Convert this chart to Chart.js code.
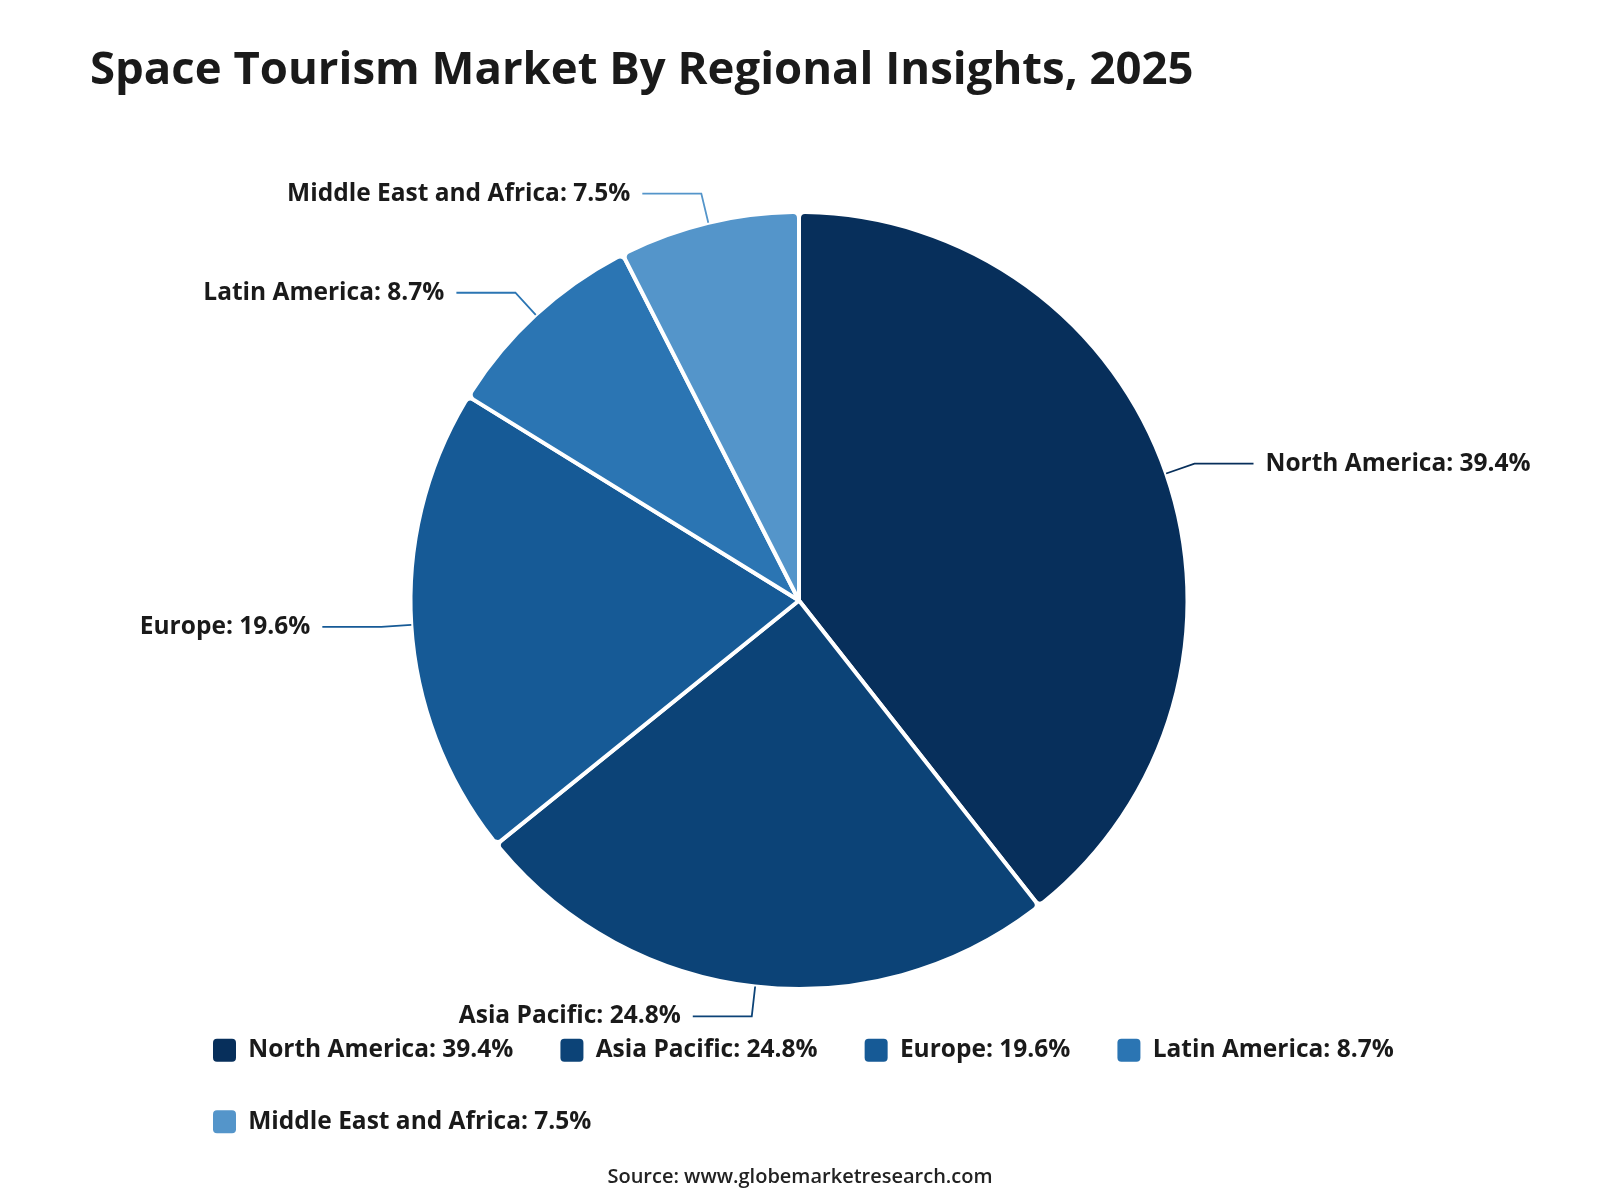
<!DOCTYPE html>
<html>
<head>
<meta charset="utf-8">
<script src="https://cdn.jsdelivr.net/npm/chart.js@4/dist/chart.umd.min.js"></script>
<style>
  html, body { margin: 0; padding: 0; background: #fff; }
  #wrap { width: 1600px; height: 1200px; position: relative; }
</style>
</head>
<body>
<div id="wrap"><canvas id="regionChart"></canvas></div>
<script>
// ---- data ----
const regions = ['North America', 'Asia Pacific', 'Europe', 'Latin America', 'Middle East and Africa'];
const shares = [39.4, 24.8, 19.6, 8.7, 7.5];
const sliceColors = ['#072f5b', '#0c4377', '#165a96', '#2b75b3', '#5495ca'];
const chartTitle = 'Space Tourism Market By Regional Insights, 2025';
const sourceText = 'Source: www.globemarketresearch.com';

const FONT = '"Open Sans", "Noto Sans", sans-serif';
const TEXT_COLOR = '#1a1a1a';

function labelText(i) {
    return regions[i] + ': ' + shares[i] + '%';
}

// title + source drawn on the canvas
const headerFooter = {
    id: 'headerFooter',
    afterDraw(chart) {
        const ctx = chart.ctx;
        ctx.save();
        ctx.fillStyle = TEXT_COLOR;
        ctx.font = 'bold 45.5px ' + FONT;
        ctx.textAlign = 'left';
        ctx.textBaseline = 'middle';
        ctx.fillText(chartTitle, 90, 71);

        ctx.fillStyle = '#222';
        ctx.font = '600 20px ' + FONT;
        ctx.textAlign = 'center';
        ctx.fillText(sourceText, 800, 1177);
        ctx.restore();
    }
};

// nudge the legend a little to the right, the pie stays centred
const legendNudge = {
    id: 'legendNudge',
    afterLayout(chart) {
        if (chart.legend) {
            chart.legend.left += 6;
            chart.legend.right += 6;
        }
    }
};

// callout labels with elbow leader lines
const calloutLabels = {
    id: 'calloutLabels',
    afterDatasetsDraw(chart) {
        const ctx = chart.ctx;
        const meta = chart.getDatasetMeta(0);
        ctx.save();
        ctx.font = 'bold 24.5px ' + FONT;
        ctx.textBaseline = 'middle';
        meta.data.forEach((arc, i) => {
            const p = arc.getProps(['x', 'y', 'startAngle', 'endAngle', 'outerRadius'], true);
            const mid = (p.startAngle + p.endAngle) / 2;
            const cos = Math.cos(mid), sin = Math.sin(mid);
            const right = cos >= 0;
            const x0 = p.x + cos * p.outerRadius, y0 = p.y + sin * p.outerRadius;
            const x1 = p.x + cos * (p.outerRadius + 30), y1 = p.y + sin * (p.outerRadius + 30);
            const x2 = x1 + (right ? 59 : -59);

            ctx.strokeStyle = sliceColors[i];
            ctx.lineWidth = 1.8;
            ctx.beginPath();
            ctx.moveTo(x0, y0);
            ctx.lineTo(x1, y1);
            ctx.lineTo(x2, y1);
            ctx.stroke();

            ctx.fillStyle = TEXT_COLOR;
            ctx.textAlign = right ? 'left' : 'right';
            ctx.fillText(labelText(i), x2 + (right ? 12 : -12), y1);
        });
        ctx.restore();
    }
};

const ctx = document.getElementById('regionChart').getContext('2d');
new Chart(ctx, {
    type: 'pie',
    data: {
        labels: regions,
        datasets: [{
            data: shares,
            backgroundColor: sliceColors,
            borderColor: '#ffffff',
            borderWidth: 4,
            borderRadius: 6
        }]
    },
    options: {
        responsive: true,
        maintainAspectRatio: false,
        animation: false,
        layout: { padding: { top: 210, bottom: 56, left: 160, right: 162 } },
        plugins: {
            title: { display: false },
            tooltip: { enabled: false },
            legend: {
                position: 'bottom',
                align: 'start',
                labels: {
                    color: TEXT_COLOR,
                    font: { family: FONT, size: 24.5, weight: 'bold' },
                    boxWidth: 23,
                    boxHeight: 23,
                    padding: 47,
                    useBorderRadius: true,
                    borderRadius: 4,
                    generateLabels: (chart) => {
                        const items = Chart.overrides.pie.plugins.legend.labels.generateLabels(chart);
                        return items.map((it, i) => Object.assign(it, { text: labelText(i), lineWidth: 0 }));
                    }
                }
            }
        }
    },
    plugins: [calloutLabels, headerFooter, legendNudge]
});
</script>
</body>
</html>
